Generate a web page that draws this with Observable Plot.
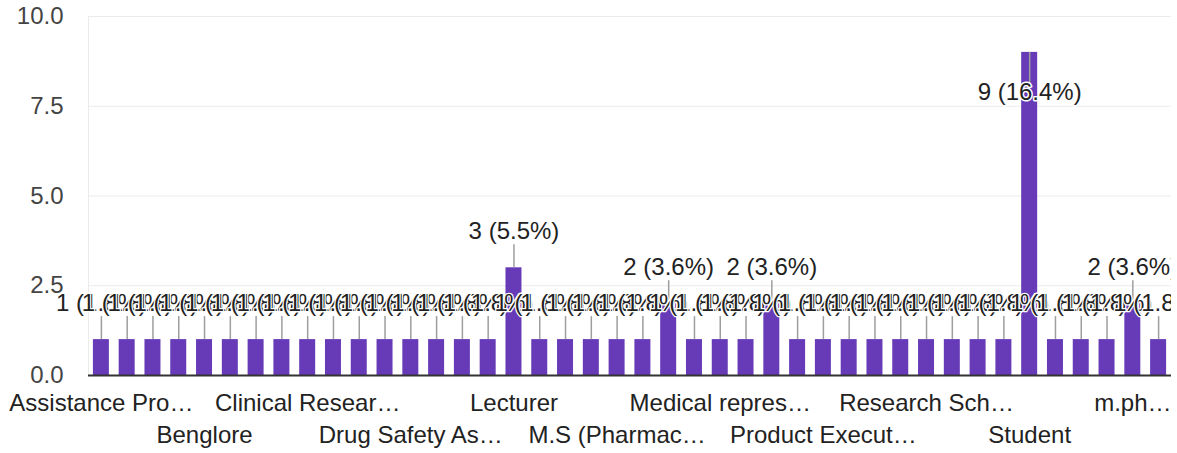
<!DOCTYPE html>
<html><head><meta charset="utf-8">
<script src="https://cdn.jsdelivr.net/npm/d3@7"></script>
<script src="https://cdn.jsdelivr.net/npm/@observablehq/plot@0.6"></script>
<style>
body{margin:0;background:#fff;}
#chart{width:1171px;overflow:hidden;}
</style>
</head><body><div id="chart"></div>
<script>
// Categories (occupations), alphabetical as in the source chart
const categories = [
  "Assistance Professor", "Assistant Manager", "Assistant Professor", "Associate Professor",
  "Benglore", "Business Development", "CRA", "Chemist",
  "Clinical Research Associate", "Clinical Research Coordinator", "Clinical Trial Assistant", "Doctor",
  "Drug Safety Associate", "Drug Safety Physician", "Faculty", "Intern",
  "Lecturer", "Lecturer in Pharmacology", "M.Pharm", "M.Pharm Student",
  "M.S (Pharmacology)", "Manager", "Medical Coder", "Medical Officer",
  "Medical representative", "PhD Scholar", "Pharmacist", "Pharmacovigilance Associate",
  "Product Executive", "Professor", "QA Executive", "Regulatory Affairs",
  "Research Scholar", "Research Scientist", "Safety Scientist", "Scientist",
  "Student", "Teacher", "Trainee", "Unemployed",
  "m.pharm student", "pharmacist"
];
const counts = [
  1, 1, 1, 1,
  1, 1, 1, 1,
  1, 1, 1, 1,
  1, 1, 1, 1,
  3, 1, 1, 1,
  1, 1, 2, 1,
  1, 1, 2, 1,
  1, 1, 1, 1,
  1, 1, 1, 1,
  9, 1, 1, 1,
  2, 1
];
// Visible (truncated) tick labels, shown every 4th category
const tickLabels = [
  "Assistance Pro…", "Benglore", "Clinical Resear…", "Drug Safety As…", "Lecturer",
  "M.S (Pharmac…", "Medical repres…", "Product Execut…", "Research Sch…", "Student", "m.ph…"
];
const yTicks = [0, 2.5, 5, 7.5, 10];

const total = d3.sum(counts);
const data = categories.map((c, i) => ({
  cat: c,
  count: counts[i],
  label: `${counts[i]} (${(counts[i] / total * 100).toFixed(1)}%)`
}));
const labelOf = new Map();
const row1 = [], row2 = [];
tickLabels.forEach((t, k) => {
  const c = categories[k * 4];
  labelOf.set(c, t);
  (k % 2 === 0 ? row1 : row2).push(c);
});

const yMax = 10;
const above = data.filter(d => d.count + 1.4 <= yMax);
const inside = data.filter(d => d.count + 1.4 > yMax);

const font = "Arial, 'Liberation Sans', sans-serif";
const chart = Plot.plot({
  width: 1177,
  height: 453,
  marginLeft: 88,
  marginRight: 6,
  marginTop: 16,
  marginBottom: 78,
  style: {fontFamily: font, fontSize: "24px", background: "#fff", maxWidth: "none"},
  x: {domain: categories, paddingInner: 0.38, paddingOuter: 0.19, axis: null},
  y: {domain: [0, yMax], axis: null},
  marks: [
    Plot.frame({stroke: "#ebebeb"}),
    Plot.gridY(yTicks, {stroke: "#ebebeb", strokeOpacity: 1, strokeWidth: 1}),
    Plot.axisY(yTicks, {tickSize: 0, tickPadding: 25, tickFormat: d3.format(".1f"), fontSize: 24, fill: "#444", label: null}),
    Plot.barY(data, {x: "cat", y: "count", fill: "#673ab7"}),
    Plot.ruleX(above, {x: "cat", y1: "count", y2: d => d.count + 0.64, stroke: "#9e9e9e", strokeWidth: 1.5}),
    Plot.ruleX(inside, {x: "cat", y1: "count", y2: d => d.count - 0.9, stroke: "#9e9e9e", strokeWidth: 1.5}),
    Plot.ruleY([0], {stroke: "#333", strokeWidth: 2}),
    Plot.text(above, {x: "cat", y: "count", text: "label", dy: -36, fontSize: 24, fill: "#222", stroke: "white", strokeWidth: 2.5}),
    Plot.text(inside, {x: "cat", y: "count", text: "label", dy: 40, fontSize: 24, fill: "#222", stroke: "white", strokeWidth: 3}),
    Plot.axisX(row1, {tickSize: 0, tickPadding: 18, tickFormat: c => labelOf.get(c), fontSize: 24, fill: "#222", label: null}),
    Plot.axisX(row2, {tickSize: 0, tickPadding: 50, tickFormat: c => labelOf.get(c), fontSize: 24, fill: "#222", label: null})
  ]
});
document.getElementById("chart").appendChild(chart);
</script>
</body></html>
